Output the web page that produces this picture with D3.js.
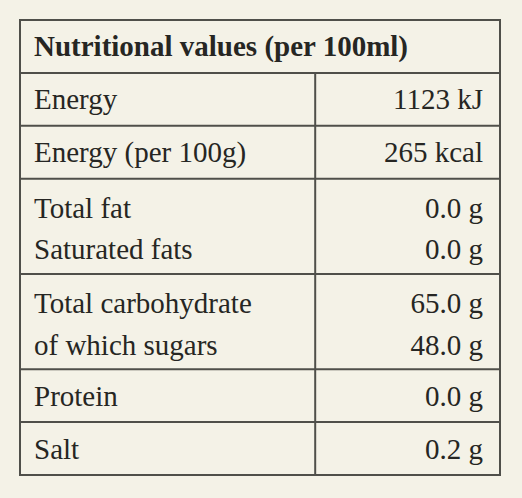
<!DOCTYPE html>
<html><head><meta charset="utf-8">
<script src="https://cdn.jsdelivr.net/npm/d3@7"></script>
<style>body{margin:0;background:#f4f2e7}</style></head>
<body><svg id="c" width="522" height="498"></svg>
<script>
const title = "Nutritional values (per 100ml)";
const groups = [
  [["Energy","1123 kJ"]],
  [["Energy (per 100g)","265 kcal"]],
  [["Total fat","0.0 g"],["Saturated fats","0.0 g"]],
  [["Total carbohydrate","65.0 g"],["of which sugars","48.0 g"]],
  [["Protein","0.0 g"]],
  [["Salt","0.2 g"]]
];
const svg = d3.select("#c");
svg.append("rect").attr("width",522).attr("height",498).attr("fill","#f4f2e7");
const unit = n => 1 + 0.8*(n-1);
let cum=[0,1];
groups.forEach(g=>cum.push(cum[cum.length-1]+unit(g.length)));
const total = cum[cum.length-1];
const y = d3.scaleLinear().domain([0,total]).range([20,475]);
const x = d3.scaleLinear().domain([0,1]).range([20,500]);
const stroke="#4f4f4a", font="'Liberation Serif', 'DejaVu Serif', serif", col="#262623";
svg.append("rect").attr("x",x(0)).attr("y",y(0)).attr("width",x(1)-x(0)).attr("height",y(total)-y(0))
  .attr("fill","none").attr("stroke",stroke).attr("stroke-width",2);
svg.selectAll("line.h").data(cum.slice(1,-1)).enter().append("line")
  .attr("x1",x(0)).attr("x2",x(1)).attr("y1",d=>y(d)).attr("y2",d=>y(d))
  .attr("stroke",stroke).attr("stroke-width",2);
svg.append("line").attr("x1",x(0.615)).attr("x2",x(0.615)).attr("y1",y(1)).attr("y2",y(total))
  .attr("stroke",stroke).attr("stroke-width",2);
svg.append("text").attr("x",34).attr("y",y(0.5)+10).text(title)
  .attr("font-family",font).attr("font-size",29).attr("font-weight","bold").attr("fill",col);
groups.forEach((g,i)=>{
  const top=cum[i+1];
  g.forEach((r,j)=>{
    const base = g.length===1? y(top+0.5)+10 : y(top+0.5+0.78*j)+13;
    svg.append("text").attr("x",34).attr("y",base).text(r[0])
      .attr("font-family",font).attr("font-size",29).attr("fill",col);
    svg.append("text").attr("x",483).attr("y",base).attr("text-anchor","end").text(r[1])
      .attr("font-family",font).attr("font-size",29).attr("fill",col);
  });
});
</script></body></html>
